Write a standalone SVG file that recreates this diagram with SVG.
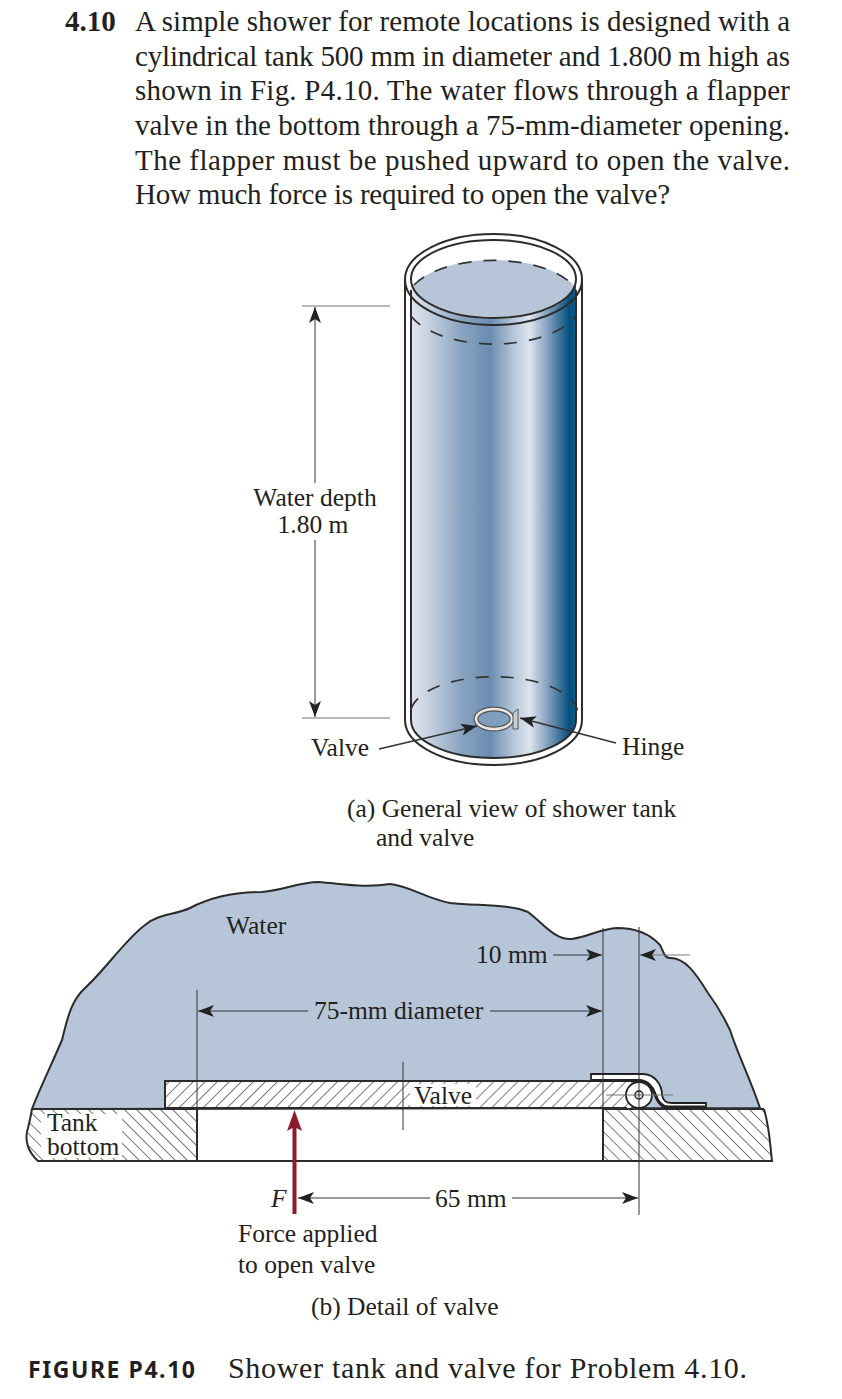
<svg xmlns="http://www.w3.org/2000/svg" width="842" height="1399" viewBox="0 0 842 1399">
<style>
text{font-family:"Liberation Serif","Times New Roman",serif;fill:#231f20}
.p{font-size:29px}
.l{font-size:25.500px}
.thin{stroke:#333;stroke-width:1;fill:none}
.gray{stroke:#777;stroke-width:1.2;fill:none}
.ol{stroke:#2b2b2b;stroke-width:2;fill:none}
.dash{stroke:#333;stroke-width:1.7;fill:none;stroke-dasharray:13 12}
</style>
<defs>
<linearGradient id="tankGrad" gradientUnits="userSpaceOnUse" x1="411" y1="0" x2="576" y2="0">
<stop offset="0" stop-color="#dfe5ee"/>
<stop offset="0.1" stop-color="#c8d3e0"/>
<stop offset="0.3" stop-color="#8ba5c1"/>
<stop offset="0.48" stop-color="#6a8cb0"/>
<stop offset="0.62" stop-color="#b6c6d8"/>
<stop offset="0.72" stop-color="#dde4ed"/>
<stop offset="0.85" stop-color="#6f92b4"/>
<stop offset="0.96" stop-color="#044f7d"/>
<stop offset="1" stop-color="#0a5c8a"/>
</linearGradient>
<pattern id="hatchF" width="10" height="10" patternUnits="userSpaceOnUse" patternTransform="rotate(45) scale(0.85)">
<line x1="0" y1="0" x2="0" y2="10" stroke="#333" stroke-width="1.5"/>
</pattern>
<pattern id="hatchB" width="10" height="10" patternUnits="userSpaceOnUse" patternTransform="rotate(-45) scale(0.85)">
<line x1="0" y1="0" x2="0" y2="10" stroke="#333" stroke-width="1.5"/>
</pattern>
<marker id="arrow" viewBox="0 0 16 12" markerWidth="16" markerHeight="12" refX="16" refY="6" orient="auto-start-reverse" markerUnits="userSpaceOnUse">
<path d="M0 0L16 6L0 12L4 6Z" fill="#222"/>
</marker>
<clipPath id="rimClip"><ellipse cx="493.500" cy="279" rx="82" ry="39"/></clipPath>
</defs>

<g id="problem-text">
<text x="65" y="31" class="p" style="font-weight:bold">4.10</text>
<text x="135" y="31" class="p" textLength="655">A simple shower for remote locations is designed with a</text>
<text x="135" y="66" class="p" textLength="655">cylindrical tank 500 mm in diameter and 1.800 m high as</text>
<text x="135" y="100" class="p" textLength="655">shown in Fig. P4.10. The water flows through a flapper</text>
<text x="135" y="135" class="p" textLength="655">valve in the bottom through a 75-mm-diameter opening.</text>
<text x="135" y="170" class="p" textLength="655">The flapper must be pushed upward to open the valve.</text>
<text x="135" y="204" class="p" textLength="535">How much force is required to open the valve?</text>
</g>

<g id="tank">
<path d="M405 280A88.500 45.500 0 0 1 582 280V720A88.500 45 0 0 1 405 720Z" fill="#fff"/>
<path d="M411 280A82.500 39 0 0 0 576 280V720A82.500 38 0 0 1 411 720Z" fill="url(#tankGrad)"/>
<ellipse cx="493.500" cy="303" rx="88" ry="43" fill="#b6c6d8" clip-path="url(#rimClip)"/>
<path d="M405 280V720A88.500 45 0 0 0 582 720V280" class="ol"/>
<path d="M411 290V720A82.500 38 0 0 0 576 720V290" class="ol"/>
<ellipse cx="493.500" cy="279.500" rx="88.500" ry="45.500" class="ol"/>
<ellipse cx="493.500" cy="279" rx="82.500" ry="39" class="ol"/>
<path d="M414 285A88 43 0 0 1 573 285" class="dash"/>
<path d="M411 316A88 43 0 0 0 576 316" class="dash"/>
<path d="M411 709A84 38 0 0 1 578 716" class="dash"/>
<ellipse cx="494" cy="719" rx="18" ry="10" fill="#7f9fbe" stroke="#555" stroke-width="5"/>
<ellipse cx="494" cy="719" rx="18" ry="10" fill="none" stroke="#e8e6df" stroke-width="2.500"/>
<path d="M513 713L518 709V729L513 729Z" fill="#c9ced4" stroke="#555" stroke-width="1"/>
</g>

<g id="tank-dimensions">
<line x1="302" y1="306" x2="390" y2="306" class="gray"/>
<line x1="302" y1="718" x2="390" y2="718" class="gray"/>
<line x1="315" y1="483" x2="315" y2="307" class="thin" marker-end="url(#arrow)"/>
<line x1="315" y1="540" x2="315" y2="717" class="thin" marker-end="url(#arrow)"/>
<text x="315" y="506" class="l" text-anchor="middle">Water depth</text>
<text x="313" y="533" class="l" text-anchor="middle">1.80 m</text>
<line x1="379" y1="749" x2="477" y2="726" stroke="#333" stroke-width="1.700" marker-end="url(#arrow)"/>
<line x1="616" y1="743" x2="520" y2="718" stroke="#333" stroke-width="1.700" marker-end="url(#arrow)"/>
<text x="311" y="756" class="l">Valve</text>
<text x="622" y="755" class="l">Hinge</text>
<text x="347" y="817" class="l">(a) General view of shower tank</text>
<text x="376" y="846" class="l">and valve</text>
</g>

<g id="water">
<path d="M32 1109C40 1088 50 1068 62 1040C68 1015 72 1000 85 988C105 970 125 940 145 925C160 913 175 915 190 908C215 895 240 892 262 892C285 890 300 882 318 882C345 884 365 888 390 884C410 886 425 898 450 903C480 906 510 904 528 912C545 925 555 940 572 939C590 936 600 929 617 928C635 928 650 934 660 945C664 952 664 958 670 958C685 958 695 972 708 993C722 1012 722 1015 730 1030C738 1055 750 1078 760 1108Z" fill="#b6c6d8" stroke="#2b2b2b" stroke-width="2"/>
</g>

<g id="tank-bottom">
<path d="M32 1109H197V1161H38C28 1152 24 1140 28 1128C30 1120 31 1115 32 1109Z" fill="url(#hatchB)"/>
<path d="M603 1109H764C770 1130 770 1145 772 1161H603Z" fill="url(#hatchB)"/>
<rect x="41" y="1114" width="81" height="44" fill="#fff"/>
<path d="M197 1161H38C28 1152 24 1140 28 1128C30 1120 31 1115 32 1109" class="ol"/>
<path d="M603 1161H772C770 1145 770 1130 764 1109" class="ol"/>
<line x1="197" y1="1109" x2="197" y2="1161" class="ol"/>
<line x1="603" y1="1109" x2="603" y2="1161" class="ol"/>
<line x1="32" y1="1109" x2="197" y2="1109" class="ol"/>
<line x1="603" y1="1109" x2="764" y2="1109" class="ol"/>
<line x1="197" y1="1161" x2="603" y2="1161" class="ol"/>
</g>

<g id="valve">
<rect x="165" y="1081" width="466" height="27" fill="#fff"/>
<rect x="165" y="1081" width="466" height="27" fill="url(#hatchF)"/>
<rect x="410" y="1084" width="66" height="22" fill="#fff"/>
<path d="M165 1108V1081H631M165 1108H627" class="ol"/>
<path d="M591 1081V1074H643C654 1074 662 1084 662 1095C663 1101 666 1103 672 1103H706V1108H668C660 1108 657 1100 655 1094C652 1086 646 1081 640 1081Z" fill="#fff" stroke="#222" stroke-width="1.800"/>
<path d="M592 1080.500H640C647 1081 653 1087 655 1094C657 1100 660 1107 668 1107H705" fill="none" stroke="#222" stroke-width="3"/>
<circle cx="639" cy="1095" r="13" fill="#fff" stroke="#222" stroke-width="1.800"/>
<circle cx="639" cy="1095" r="4" fill="#ddd" stroke="#222" stroke-width="1.500"/>
<line x1="606" y1="1095" x2="673" y2="1095" class="gray"/>
</g>

<g id="detail-dimensions">
<line x1="197" y1="990" x2="197" y2="1108" class="thin"/>
<line x1="603" y1="928" x2="603" y2="1109" class="thin"/>
<line x1="639" y1="927" x2="639" y2="1215" class="thin"/>
<line x1="403" y1="1062" x2="403" y2="1130" class="thin"/>
<line x1="553" y1="955" x2="602" y2="955" class="thin" marker-end="url(#arrow)"/>
<line x1="690" y1="955" x2="640" y2="955" class="gray" marker-end="url(#arrow)"/>
<line x1="308" y1="1011" x2="198" y2="1011" class="thin" marker-end="url(#arrow)"/>
<line x1="490" y1="1011" x2="602" y2="1011" class="thin" marker-end="url(#arrow)"/>
<line x1="430" y1="1198" x2="298" y2="1198" class="thin" marker-end="url(#arrow)"/>
<line x1="512" y1="1198" x2="638" y2="1198" class="thin" marker-end="url(#arrow)"/>
<path d="M294.500 1110L302 1131L296.500 1128V1214H292.500V1128L287 1131Z" fill="#8c1c2b"/>
</g>

<g id="detail-labels">
<text x="226" y="934" class="l">Water</text>
<text x="476" y="963" class="l">10 mm</text>
<text x="314" y="1019" class="l">75-mm diameter</text>
<text x="414" y="1104" class="l">Valve</text>
<text x="47" y="1131" class="l">Tank</text>
<text x="47" y="1155" class="l">bottom</text>
<text x="271" y="1207" class="l" font-style="italic">F</text>
<text x="435" y="1207" class="l">65 mm</text>
<text x="238" y="1242" class="l">Force applied</text>
<text x="238" y="1273" class="l">to open valve</text>
<text x="311" y="1315" class="l">(b) Detail of valve</text>
</g>

<g id="caption">
<text x="28" y="1378" style="font-family:'Noto Sans','Liberation Sans',Arial,sans-serif;font-weight:bold;font-size:23px" textLength="167">FIGURE P4.10</text>
<text x="228" y="1378" style="font-size:30px" textLength="519">Shower tank and valve for Problem 4.10.</text>
</g>
</svg>
